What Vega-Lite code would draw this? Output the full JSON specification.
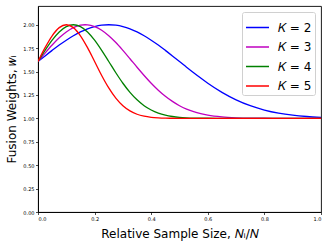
{
  "$schema": "https://vega.github.io/schema/vega-lite/v6.json",
  "autosize": "none",
  "width": 283,
  "height": 206,
  "padding": {"left": 38, "top": 6, "right": 11, "bottom": 37},
  "background": "white",
  "config": {
    "font": "DejaVu Sans",
    "view": {"stroke": "#000", "strokeWidth": 0.9},
    "axis": {"grid": false, "domainColor": "#000", "domainWidth": 0.9, "tickColor": "#000", "tickSize": 2.5, "tickWidth": 0.7, "labelFontSize": 5, "labelColor": "#000", "titleFontSize": 12, "titleFontWeight": "normal", "titleColor": "#000", "labelPadding": 1.5}
  },
  "data": {"values": [
    {"x":0,"w":1.607,"K":"K = 2"},{"x":0.025,"w":1.667,"K":"K = 2"},{"x":0.05,"w":1.726,"K":"K = 2"},{"x":0.075,"w":1.783,"K":"K = 2"},{"x":0.1,"w":1.835,"K":"K = 2"},{"x":0.125,"w":1.882,"K":"K = 2"},{"x":0.15,"w":1.923,"K":"K = 2"},{"x":0.175,"w":1.956,"K":"K = 2"},{"x":0.2,"w":1.980,"K":"K = 2"},{"x":0.225,"w":1.995,"K":"K = 2"},{"x":0.25,"w":2.000,"K":"K = 2"},{"x":0.275,"w":1.995,"K":"K = 2"},{"x":0.3,"w":1.980,"K":"K = 2"},{"x":0.325,"w":1.956,"K":"K = 2"},{"x":0.35,"w":1.923,"K":"K = 2"},{"x":0.375,"w":1.882,"K":"K = 2"},{"x":0.4,"w":1.835,"K":"K = 2"},{"x":0.425,"w":1.783,"K":"K = 2"},{"x":0.45,"w":1.726,"K":"K = 2"},{"x":0.475,"w":1.667,"K":"K = 2"},{"x":0.5,"w":1.607,"K":"K = 2"},{"x":0.525,"w":1.546,"K":"K = 2"},{"x":0.55,"w":1.487,"K":"K = 2"},{"x":0.575,"w":1.430,"K":"K = 2"},{"x":0.6,"w":1.375,"K":"K = 2"},{"x":0.65,"w":1.278,"K":"K = 2"},{"x":0.7,"w":1.198,"K":"K = 2"},{"x":0.75,"w":1.135,"K":"K = 2"},{"x":0.8,"w":1.089,"K":"K = 2"},{"x":0.85,"w":1.056,"K":"K = 2"},{"x":0.9,"w":1.034,"K":"K = 2"},{"x":0.95,"w":1.020,"K":"K = 2"},{"x":1.0,"w":1.011,"K":"K = 2"},
    {"x":0,"w":1.607,"K":"K = 3"},{"x":0.025,"w":1.697,"K":"K = 3"},{"x":0.05,"w":1.783,"K":"K = 3"},{"x":0.075,"w":1.860,"K":"K = 3"},{"x":0.1,"w":1.923,"K":"K = 3"},{"x":0.125,"w":1.969,"K":"K = 3"},{"x":0.15,"w":1.995,"K":"K = 3"},{"x":0.1667,"w":2.000,"K":"K = 3"},{"x":0.175,"w":1.999,"K":"K = 3"},{"x":0.2,"w":1.980,"K":"K = 3"},{"x":0.225,"w":1.941,"K":"K = 3"},{"x":0.25,"w":1.882,"K":"K = 3"},{"x":0.275,"w":1.810,"K":"K = 3"},{"x":0.3,"w":1.726,"K":"K = 3"},{"x":0.325,"w":1.637,"K":"K = 3"},{"x":0.35,"w":1.546,"K":"K = 3"},{"x":0.375,"w":1.458,"K":"K = 3"},{"x":0.4,"w":1.375,"K":"K = 3"},{"x":0.425,"w":1.301,"K":"K = 3"},{"x":0.45,"w":1.236,"K":"K = 3"},{"x":0.475,"w":1.181,"K":"K = 3"},{"x":0.5,"w":1.135,"K":"K = 3"},{"x":0.525,"w":1.099,"K":"K = 3"},{"x":0.55,"w":1.071,"K":"K = 3"},{"x":0.575,"w":1.050,"K":"K = 3"},{"x":0.6,"w":1.034,"K":"K = 3"},{"x":0.65,"w":1.015,"K":"K = 3"},{"x":0.7,"w":1.006,"K":"K = 3"},{"x":0.75,"w":1.002,"K":"K = 3"},{"x":0.8,"w":1.001,"K":"K = 3"},{"x":0.85,"w":1.000,"K":"K = 3"},{"x":0.9,"w":1.000,"K":"K = 3"},{"x":0.95,"w":1.000,"K":"K = 3"},{"x":1.0,"w":1.000,"K":"K = 3"},
    {"x":0,"w":1.607,"K":"K = 4"},{"x":0.025,"w":1.726,"K":"K = 4"},{"x":0.05,"w":1.835,"K":"K = 4"},{"x":0.075,"w":1.923,"K":"K = 4"},{"x":0.1,"w":1.980,"K":"K = 4"},{"x":0.125,"w":2.000,"K":"K = 4"},{"x":0.15,"w":1.980,"K":"K = 4"},{"x":0.175,"w":1.923,"K":"K = 4"},{"x":0.2,"w":1.835,"K":"K = 4"},{"x":0.225,"w":1.726,"K":"K = 4"},{"x":0.25,"w":1.607,"K":"K = 4"},{"x":0.275,"w":1.487,"K":"K = 4"},{"x":0.3,"w":1.375,"K":"K = 4"},{"x":0.325,"w":1.278,"K":"K = 4"},{"x":0.35,"w":1.198,"K":"K = 4"},{"x":0.375,"w":1.135,"K":"K = 4"},{"x":0.4,"w":1.089,"K":"K = 4"},{"x":0.425,"w":1.056,"K":"K = 4"},{"x":0.45,"w":1.034,"K":"K = 4"},{"x":0.475,"w":1.020,"K":"K = 4"},{"x":0.5,"w":1.011,"K":"K = 4"},{"x":0.525,"w":1.006,"K":"K = 4"},{"x":0.55,"w":1.003,"K":"K = 4"},{"x":0.575,"w":1.002,"K":"K = 4"},{"x":0.6,"w":1.001,"K":"K = 4"},{"x":0.65,"w":1.000,"K":"K = 4"},{"x":0.7,"w":1.000,"K":"K = 4"},{"x":0.8,"w":1.000,"K":"K = 4"},{"x":0.9,"w":1.000,"K":"K = 4"},{"x":1.0,"w":1.000,"K":"K = 4"},
    {"x":0,"w":1.607,"K":"K = 5"},{"x":0.025,"w":1.755,"K":"K = 5"},{"x":0.05,"w":1.882,"K":"K = 5"},{"x":0.075,"w":1.969,"K":"K = 5"},{"x":0.1,"w":2.000,"K":"K = 5"},{"x":0.125,"w":1.969,"K":"K = 5"},{"x":0.15,"w":1.882,"K":"K = 5"},{"x":0.175,"w":1.755,"K":"K = 5"},{"x":0.2,"w":1.607,"K":"K = 5"},{"x":0.225,"w":1.458,"K":"K = 5"},{"x":0.25,"w":1.325,"K":"K = 5"},{"x":0.275,"w":1.216,"K":"K = 5"},{"x":0.3,"w":1.135,"K":"K = 5"},{"x":0.325,"w":1.080,"K":"K = 5"},{"x":0.35,"w":1.044,"K":"K = 5"},{"x":0.375,"w":1.023,"K":"K = 5"},{"x":0.4,"w":1.011,"K":"K = 5"},{"x":0.425,"w":1.005,"K":"K = 5"},{"x":0.45,"w":1.002,"K":"K = 5"},{"x":0.475,"w":1.001,"K":"K = 5"},{"x":0.5,"w":1.000,"K":"K = 5"},{"x":0.6,"w":1.000,"K":"K = 5"},{"x":0.7,"w":1.000,"K":"K = 5"},{"x":0.8,"w":1.000,"K":"K = 5"},{"x":0.9,"w":1.000,"K":"K = 5"},{"x":1.0,"w":1.000,"K":"K = 5"}
  ]},
  "mark": {"type": "line", "interpolate": "monotone", "strokeWidth": 1.3, "clip": true},
  "encoding": {
    "x": {"field": "x", "type": "quantitative", "scale": {"domain": [0, 1], "nice": false},
      "axis": {"values": [0, 0.2, 0.4, 0.6, 0.8, 1.0], "format": ".1f", "title": "Relative Sample Size, 𝑁ᵢ/𝑁", "titlePadding": 7}},
    "y": {"field": "w", "type": "quantitative", "scale": {"domain": [0, 2.2], "nice": false, "zero": true},
      "axis": {"values": [0, 0.25, 0.5, 0.75, 1.0, 1.25, 1.5, 1.75, 2.0], "format": ".2f", "title": "Fusion Weights, 𝑤ᵢ", "titlePadding": 4}},
    "color": {"field": "K", "type": "nominal",
      "scale": {"domain": ["K = 2", "K = 3", "K = 4", "K = 5"], "range": ["#0000ff", "#bf00bf", "#008000", "#ff0000"]},
      "legend": {"title": null, "orient": "top-right", "offset": 6, "symbolType": "stroke", "symbolSize": 529, "symbolStrokeWidth": 1.5, "labelFontSize": 12, "labelExpr": "replace(datum.label, 'K', '𝐾')", "labelColor": "#000", "strokeColor": "#d0d0d0", "fillColor": "white", "cornerRadius": 2, "padding": 3, "rowPadding": 0.5, "labelOffset": 8}}
  }
}
